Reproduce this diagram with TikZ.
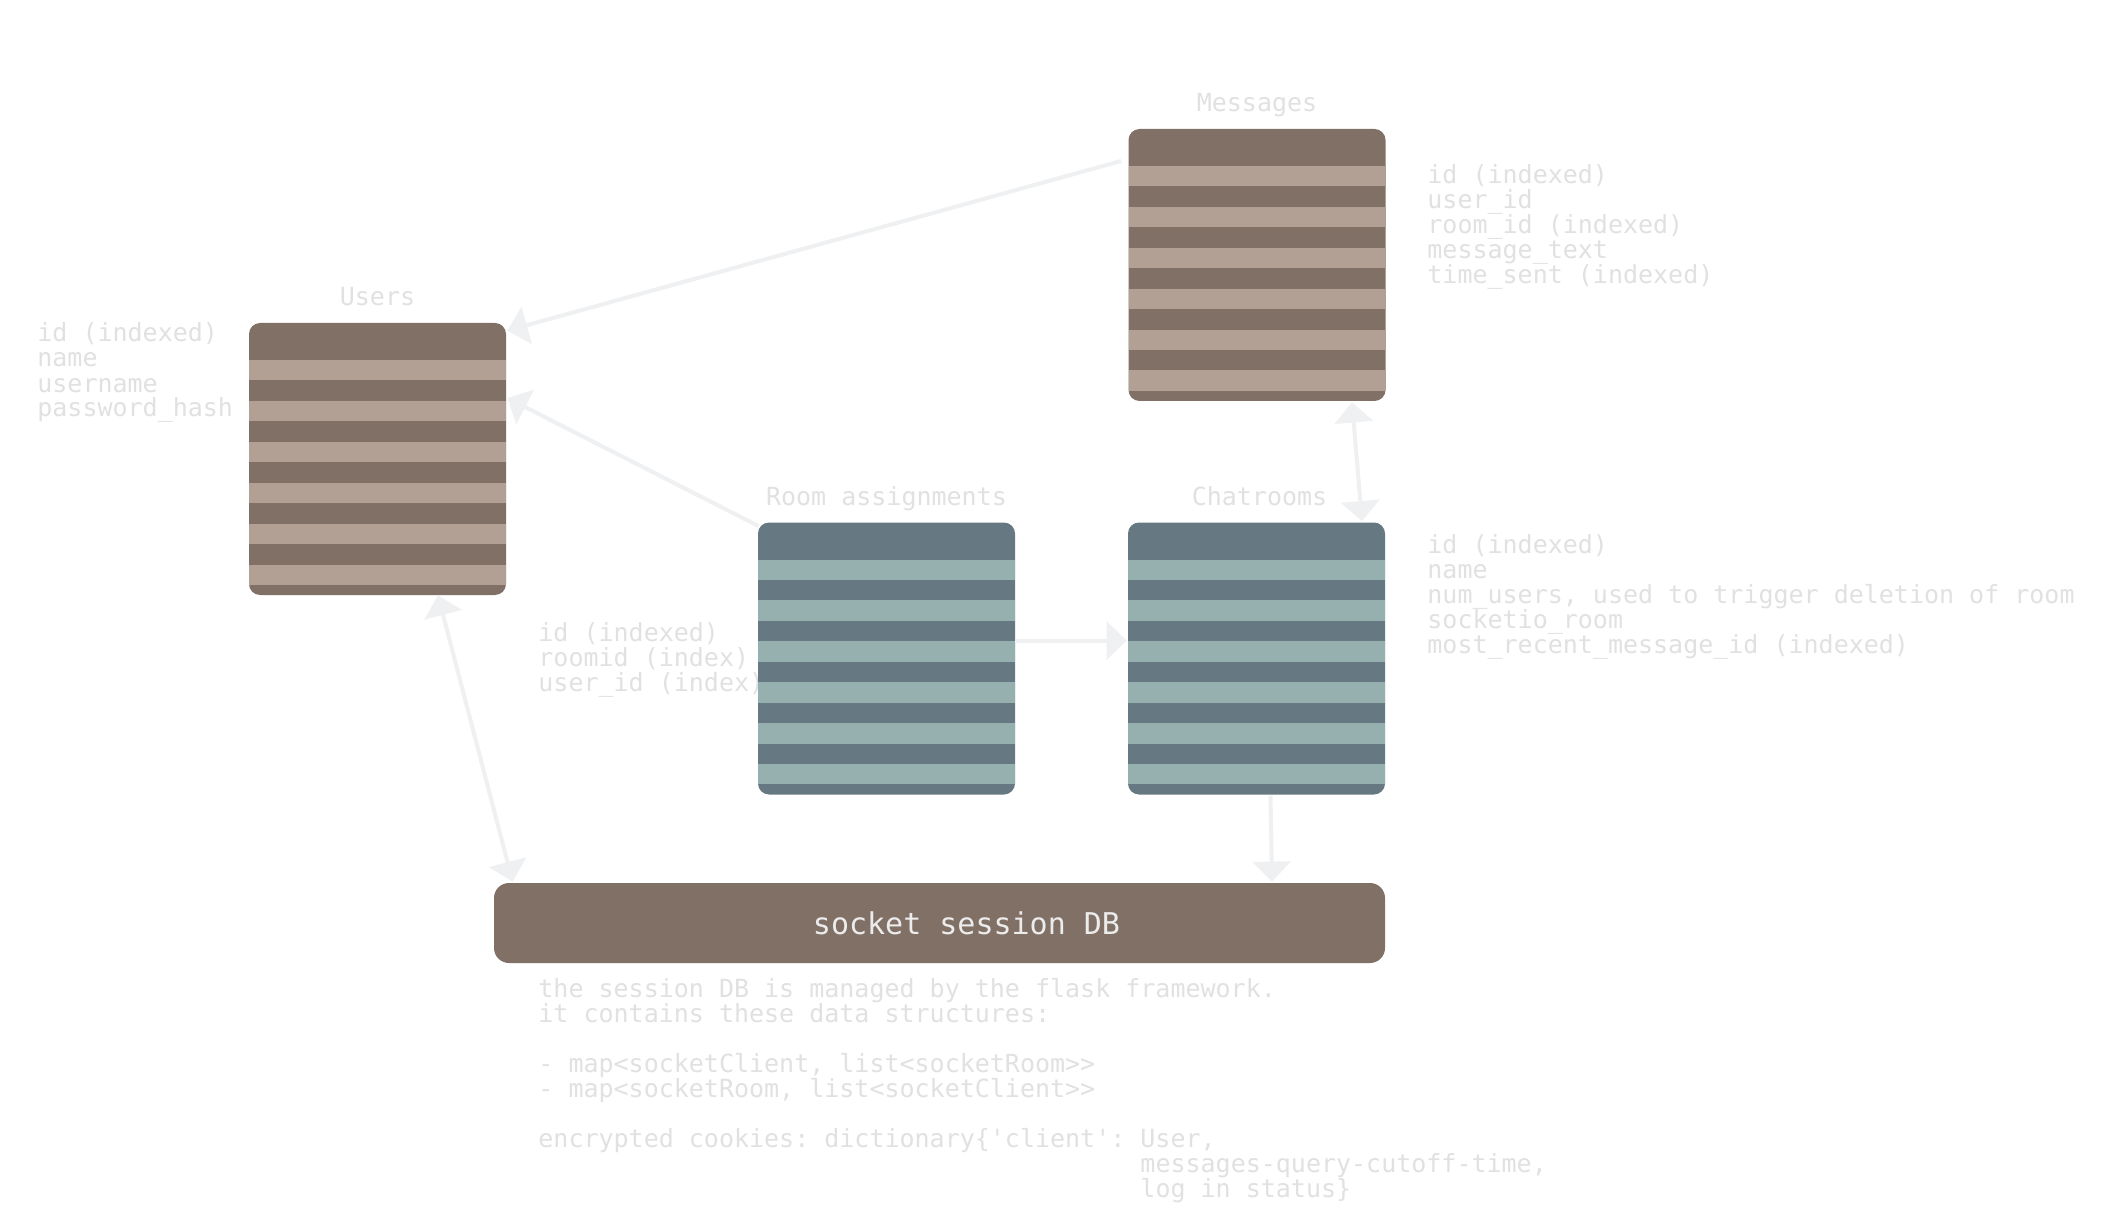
\documentclass[tikz,border=0pt]{standalone}
\usepackage{fontspec}
\setmonofont{DejaVu Sans Mono}
\usetikzlibrary{arrows.meta}

\definecolor{brownD}{RGB}{129,112,102}
\definecolor{brownL}{RGB}{178,160,148}
\definecolor{slateD}{RGB}{102,121,130}
\definecolor{slateL}{RGB}{150,176,176}
\definecolor{textgrey}{RGB}{225,225,225}
\definecolor{linkgrey}{RGB}{239,240,242}
\definecolor{boxtext}{RGB}{236,236,236}

\begin{document}
\begin{tikzpicture}[x=0.5pt,y=-0.5pt,
  >={Triangle[length=10pt,width=19pt]},
  mono/.style={font=\ttfamily\fontsize{12.5pt}{12.5pt}\selectfont},
  % multi-line nodes: the base anchor sits on the last line
  attr/.style={mono, text=textgrey, align=left, anchor=base west, inner sep=0pt},
  title/.style={mono, text=textgrey, anchor=base, inner sep=0pt},
  table/.style 2 args={rounded corners=5.5pt, fill=#1, draw=none,
    minimum width=128.5pt, minimum height=136pt, inner sep=0pt,
    path picture={
      \foreach \i in {0,...,5}
        \fill[#2, sharp corners]
          ([yshift={-(18.5+2*\i*10.225)*1pt}]path picture bounding box.north west)
          rectangle
          ([yshift={-(18.5+(2*\i+1)*10.225)*1pt}]path picture bounding box.north east);
    }},
  sessionbox/.style={rounded corners=7.5pt, fill=brownD, draw=none,
    minimum width=445.5pt, minimum height=40pt, inner sep=0pt,
    text=boxtext, font=\ttfamily\fontsize{15pt}{15pt}\selectfont},
  link/.style={draw=linkgrey, line width=2pt},
]
\fill[white] (0,0) rectangle (2126,1219);
\useasboundingbox (0,0) rectangle (2126,1219);

% column descriptions (drawn first so the tables sit on top)
\node[attr] (usersattr) at (37,417)
  {id (indexed)\\name\\username\\password\_hash};
\node[attr] (msgattr) at (1427,284)
  {id (indexed)\\user\_id\\room\_id (indexed)\\message\_text\\time\_sent (indexed)};
\node[attr] (chatattr) at (1427,653)
  {id (indexed)\\name\\num\_users, used to trigger deletion of room\\socketio\_room\\most\_recent\_message\_id (indexed)};
\node[attr] (roomattr) at (538,691)
  {id (indexed)\\roomid (index)\\user\_id (index)};
\node[attr] (sessionattr) at (538,1197)
  {the session DB is managed by the flask framework.\\
   it contains these data structures:\\[12.5pt]
   - map<socketClient, list<socketRoom>{}>\\
   - map<socketRoom, list<socketClient>{}>\\[12.5pt]
   encrypted cookies: dictionary\{'client': User,\\
   \hphantom{encrypted cookies: dictionary\{'client': }messages-query-cutoff-time,\\
   \hphantom{encrypted cookies: dictionary\{'client': }log in status\}};

% tables
\node[table={brownD}{brownL}] (users) at (377.5,459) {};
\node[table={brownD}{brownL}] (msg)   at (1257,265) {};
\node[table={slateD}{slateL}] (room)  at (886.5,658.5) {};
\node[table={slateD}{slateL}] (chat)  at (1256.5,658.5) {};
\node[sessionbox] (session) at (939.5,923) {\hspace*{27pt}socket session DB};

% table titles
\node[title] (userstitle) at ([shift={(0,-17)}]users.north) {Users};
\node[title] (msgtitle)   at ([shift={(0,-17)}]msg.north) {Messages};
\node[title] (roomtitle)  at ([shift={(0,-17)}]room.north) {Room assignments};
\node[title] (chattitle)  at ([shift={(3,-17)}]chat.north) {Chatrooms};

% relations
\draw[link,->] ([shift={(-7,-104)}]msg.west) -- ([shift={(1,8)}]users.north east);
\draw[link,->] ([shift={(1,4)}]room.north west) -- ([shift={(1,-61)}]users.east);
\draw[link,<->] ([shift={(60.5,0)}]users.south) -- ([shift={(19,-1)}]session.north west);
\draw[link,->] ([shift={(0,-18)}]room.east) -- ([shift={(-1,-18)}]chat.west);
\draw[link,<->] ([shift={(95,1)}]msg.south) -- ([shift={(105.5,-1)}]chat.north);
\draw[link,->] ([shift={(14,1)}]chat.south) -- ([shift={(332.5,-1)}]session.north);
\end{tikzpicture}
\end{document}
